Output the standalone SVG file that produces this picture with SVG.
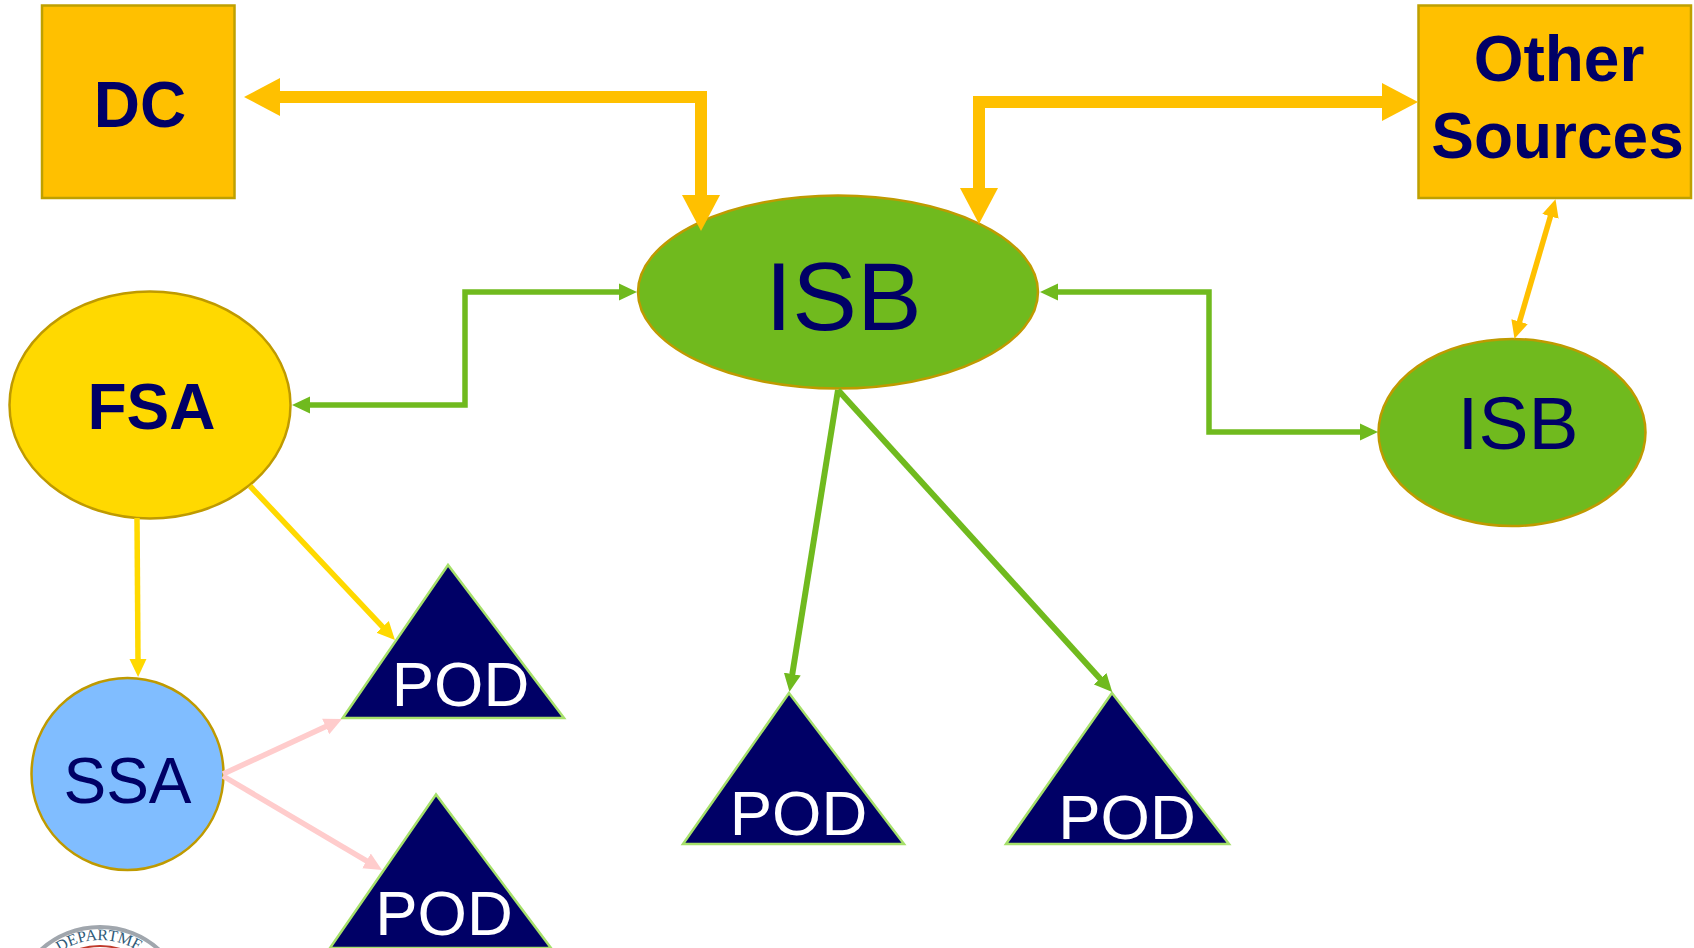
<svg xmlns="http://www.w3.org/2000/svg" width="1694" height="948" viewBox="0 0 1694 948">
<style>
text{font-family:"Liberation Sans",Arial,sans-serif;text-anchor:middle}
.n{fill:#000066}.w{fill:#fff}.b{font-weight:bold}
.o{fill:#ffc000;stroke:#bfa000;stroke-width:2.5}
.g{fill:#70ba1e;stroke:#bf9a00;stroke-width:2.5}
.t{fill:#000066;stroke:#a6e06a;stroke-width:2.5}
.c{fill:none}
</style>
<defs>
<marker id="oL" markerUnits="userSpaceOnUse" viewBox="0 0 36 38" refX="2" refY="19" markerWidth="36" markerHeight="38" orient="auto-start-reverse"><path d="M0 0L36 19L0 38z" fill="#ffc000"/></marker>
<marker id="oS" markerUnits="userSpaceOnUse" viewBox="0 0 18 18" refX="2" refY="9" markerWidth="18" markerHeight="18" orient="auto-start-reverse"><path d="M0 0.500L18 9L0 17.500z" fill="#ffc000"/></marker>
<marker id="gS" markerUnits="userSpaceOnUse" viewBox="0 0 18 18" refX="2" refY="9" markerWidth="18" markerHeight="18" orient="auto-start-reverse"><path d="M0 0.500L18 9L0 17.500z" fill="#70ba1e"/></marker>
<marker id="yS" markerUnits="userSpaceOnUse" viewBox="0 0 18 18" refX="2" refY="9" markerWidth="18" markerHeight="18" orient="auto-start-reverse"><path d="M0 0.500L18 9L0 17.500z" fill="#ffd900"/></marker>
<marker id="pS" markerUnits="userSpaceOnUse" viewBox="0 0 18 18" refX="2" refY="9" markerWidth="18" markerHeight="18" orient="auto-start-reverse"><path d="M0 0.500L18 9L0 17.500z" fill="#ffcccc"/></marker>
<path id="seal" d="M28 1012A72 72 0 0 1 172 1012"/>
</defs>
<g id="node-dc"><rect class="o" x="42" y="5.500" width="192.500" height="192.500"/><text class="n b" x="140" y="127" font-size="64">DC</text></g>
<g id="node-other-sources"><rect class="o" x="1418.500" y="5.500" width="272.500" height="192.500"/><text class="n b" x="1559" y="81" font-size="64">Other</text><text class="n b" x="1557.500" y="158" font-size="64">Sources</text></g>
<g id="node-isb-main"><ellipse class="g" cx="838" cy="292" rx="200" ry="96.500"/><text class="n" x="843.500" y="330" font-size="97">ISB</text></g>
<g id="node-isb-right"><ellipse class="g" cx="1512" cy="432.500" rx="133.500" ry="93.500"/><text class="n" x="1518" y="449" font-size="75">ISB</text></g>
<g id="node-fsa"><ellipse cx="150" cy="405" rx="140.500" ry="113.500" fill="#ffd900" stroke="#bf9a00" stroke-width="2.500"/><text class="n b" x="151.500" y="429" font-size="64">FSA</text></g>
<g id="node-ssa"><ellipse cx="127.500" cy="774" rx="96" ry="96" fill="#80bdff" stroke="#bf9a00" stroke-width="2.500"/><text class="n" x="127.500" y="803" font-size="64">SSA</text></g>
<g id="node-pod-1"><path class="t" d="M448 565L342.700 718H564z"/><text class="w" x="460.500" y="706" font-size="63.500">POD</text></g>
<g id="node-pod-2"><path class="t" d="M436 794.500L330 948H551z"/><text class="w" x="444" y="935" font-size="63.500">POD</text></g>
<g id="node-pod-3"><path class="t" d="M789 693L683 844H904z"/><text class="w" x="798.500" y="835" font-size="63.500">POD</text></g>
<g id="node-pod-4"><path class="t" d="M1112 693L1006 844H1229z"/><text class="w" x="1127" y="839" font-size="63.500">POD</text></g>
<g id="seal-logo"><circle cx="100" cy="1015" r="88" fill="#fff" stroke="#a0a6ad" stroke-width="4"/><circle cx="100" cy="1012" r="66" fill="none" stroke="#c0392b" stroke-width="2"/><text fill="#2f5a78" font-size="16" style="font-family:'Liberation Serif',serif;text-anchor:start"><textPath href="#seal" startOffset="70">DEPARTME</textPath></text></g>
<g id="connectors" class="c">
<path d="M278 97H701V197" stroke="#ffc000" stroke-width="12" marker-start="url(#oL)" marker-end="url(#oL)"/>
<path d="M979 190V102H1384" stroke="#ffc000" stroke-width="12" marker-start="url(#oL)" marker-end="url(#oL)"/>
<path d="M1551 214.500L1519 323.500" stroke="#ffc000" stroke-width="5.500" marker-start="url(#oS)" marker-end="url(#oS)"/>
<path d="M308 405H465V292H621" stroke="#70ba1e" stroke-width="5.500" marker-start="url(#gS)" marker-end="url(#gS)"/>
<path d="M1056 292H1209V432H1362" stroke="#70ba1e" stroke-width="5.500" marker-start="url(#gS)" marker-end="url(#gS)"/>
<path d="M838 390L792 676" stroke="#70ba1e" stroke-width="6" marker-end="url(#gS)"/>
<path d="M838 390L1101.500 680.200" stroke="#70ba1e" stroke-width="6" marker-end="url(#gS)"/>
<path d="M137 518L138 661" stroke="#ffd900" stroke-width="5.500" marker-end="url(#yS)"/>
<path d="M250 486L384 628.400" stroke="#ffd900" stroke-width="5.500" marker-end="url(#yS)"/>
<path d="M223 774L327.500 725.700" stroke="#ffcccc" stroke-width="5.500" marker-end="url(#pS)"/>
<path d="M223 776L368.200 861.900" stroke="#ffcccc" stroke-width="5.500" marker-end="url(#pS)"/>
</g>
</svg>
